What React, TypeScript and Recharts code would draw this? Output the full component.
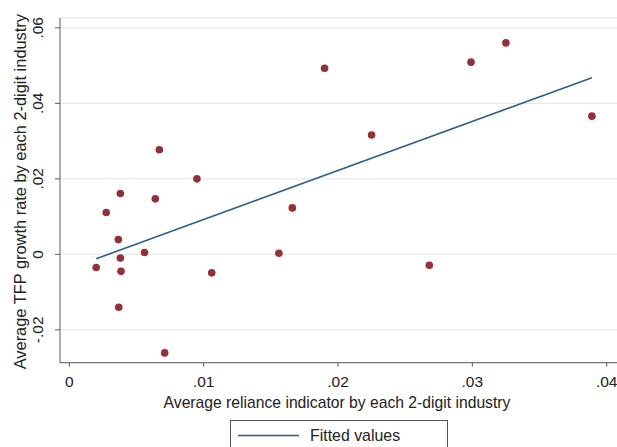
import React from 'react';
import { ScatterChart, Scatter, XAxis, YAxis, CartesianGrid, Label } from 'recharts';

// average reliance indicator (x) and average TFP growth (y), one per 2-digit industry
const relianceX = [
  0.002, 0.00275, 0.0038, 0.00365, 0.0038, 0.00385, 0.00368, 0.0056, 0.0064, 0.0067, 0.0071,
  0.0095, 0.0106, 0.0156, 0.0166, 0.019, 0.0225, 0.0268, 0.0299, 0.0325, 0.0389,
];
const tfpY = [
  -0.0035, 0.0111, 0.0161, 0.0039, -0.001, -0.0045, -0.014, 0.0005, 0.0147, 0.0277, -0.0261,
  0.02, -0.0049, 0.0003, 0.0123, 0.0493, 0.0316, -0.0029, 0.0509, 0.056, 0.0366,
];

// fitted values line, end points
const fittedX = [0.002, 0.0389];
const fittedY = [-0.00117, 0.0468];

const xTicks = [0, 0.01, 0.02, 0.03, 0.04];
const yTicks = [-0.02, 0, 0.02, 0.04, 0.06];

const xTitle = 'Average reliance indicator by each 2-digit industry';
const yTitle = 'Average TFP growth rate by each 2-digit industry';
const legendLabel = 'Fitted values';

const points = relianceX.map((x, i) => ({ x, y: tfpY[i] }));
const fitted = fittedX.map((x, i) => ({ x, y: fittedY[i] }));

const FONT = '"Liberation Sans", Arial, sans-serif';
const TEXT = '#222';
const AXIS = '#5a5a5a';
const RED = '#963038';
const BLUE = '#2f5f8c';
const FS = 15.5;

// stata style: 0, .01, -.02
const fmt = (v: number) => {
  if (v === 0) return '0';
  const s = Math.abs(v).toFixed(2).replace(/^0/, '');
  return v < 0 ? '-' + s : s;
};

const YTick = (props: any) => {
  const { x, y, payload } = props;
  return (
    <text
      x={x}
      y={y}
      transform={`rotate(-90 ${x} ${y})`}
      textAnchor="middle"
      fill={TEXT}
      fontSize={FS}
      fontFamily={FONT}
    >
      {fmt(payload.value)}
    </text>
  );
};

const Dot = (props: any) => <circle cx={props.cx} cy={props.cy} r={3.8} fill={RED} />;

export default function App() {
  return (
    <div
      style={{
        position: 'absolute',
        left: 0,
        top: 0,
        width: 617,
        height: 447,
        overflow: 'hidden',
        background: '#fff',
      }}
    >
      <ScatterChart width={630} height={447} margin={{ top: 18, right: 0, bottom: 34, left: 0 }}>
        <CartesianGrid vertical={false} stroke="#e9e9e9" strokeWidth={1.3} />
        <XAxis
          type="number"
          dataKey="x"
          domain={[-0.000692, 0.041734]}
          ticks={xTicks}
          tickFormatter={fmt}
          allowDataOverflow
          height={50.3}
          tickSize={4}
          tickMargin={9}
          stroke={AXIS}
          tick={{ fill: TEXT, fontSize: FS, fontFamily: FONT }}
        >
          <Label
            content={(p: any) => {
              const vb = p.viewBox;
              return (
                <text
                  x={vb.x + vb.width / 2 - 8}
                  y={vb.y + 45}
                  textAnchor="middle"
                  fill={TEXT}
                  fontSize={15.7}
                  fontFamily={FONT}
                >
                  {xTitle}
                </text>
              );
            }}
          />
        </XAxis>
        <YAxis
          type="number"
          dataKey="y"
          domain={[-0.0287, 0.0626]}
          ticks={yTicks}
          allowDataOverflow
          width={60}
          tickSize={5}
          tickMargin={12}
          stroke={AXIS}
          tick={<YTick />}
        >
          <Label
            content={(p: any) => {
              const vb = p.viewBox;
              const cx = vb.x + 26;
              const cy = vb.y + vb.height / 2 + 1.3;
              return (
                <text
                  x={cx}
                  y={cy}
                  transform={`rotate(-90 ${cx} ${cy})`}
                  textAnchor="middle"
                  fill={TEXT}
                  fontSize={16.4}
                  fontFamily={FONT}
                >
                  {yTitle}
                </text>
              );
            }}
          />
        </YAxis>
        <Scatter data={points} shape={<Dot />} isAnimationActive={false} />
        <Scatter
          data={fitted}
          line={{ stroke: BLUE, strokeWidth: 1.6 }}
          shape={() => <g />}
          isAnimationActive={false}
        />
      </ScatterChart>
      <div
        style={{
          position: 'absolute',
          left: 230,
          top: 420,
          width: 218,
          height: 40,
          border: '1px solid #555',
          boxSizing: 'border-box',
          fontFamily: FONT,
          fontSize: 15.9,
          color: TEXT,
        }}
      >
        <svg style={{ position: 'absolute', left: 7, top: 10 }} width={64} height={10}>
          <line x1={0} y1={4.5} x2={61} y2={4.5} stroke={BLUE} strokeWidth={1.6} />
        </svg>
        <div style={{ position: 'absolute', left: 79, top: 6, lineHeight: '18px', whiteSpace: 'nowrap' }}>
          {legendLabel}
        </div>
      </div>
    </div>
  );
}
